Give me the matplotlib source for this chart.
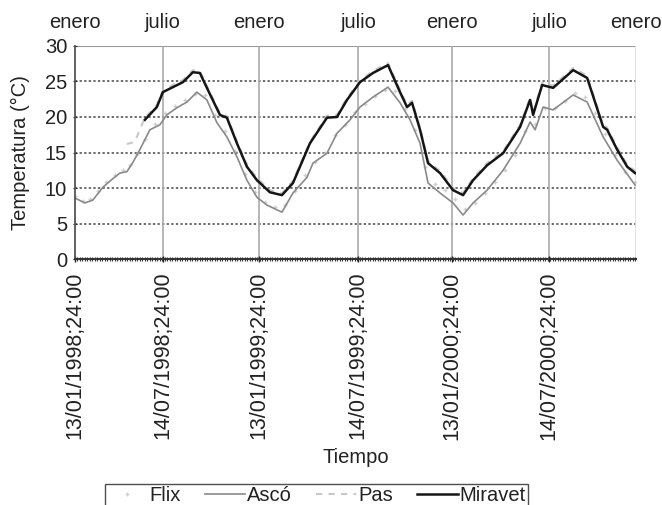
import matplotlib
matplotlib.use("Agg")
import matplotlib.pyplot as plt
from matplotlib.ticker import MultipleLocator

plt.rcParams['font.family'] = ['Liberation Sans', 'DejaVu Sans']
plt.rcParams['font.size'] = 14.5
plt.rcParams['text.color'] = '#222222'
plt.rcParams['axes.labelcolor'] = '#222222'
plt.rcParams['xtick.color'] = '#222222'
plt.rcParams['ytick.color'] = '#222222'

#
# -1- Datos : temperatura del agua por numero de registro
#

tick_reg = [0, 176, 368, 566, 754, 948]
tick_lab = ["13/01/1998;24:00", "14/07/1998;24:00", "13/01/1999;24:00",
            "14/07/1999;24:00", "13/01/2000;24:00", "14/07/2000;24:00"]
top_reg = [0, 176, 368, 566, 754, 948, 1122]
top_lab = ["enero", "julio", "enero", "julio", "enero", "julio", "enero"]

asco_reg = [0, 20, 36, 56, 74, 90, 104, 116, 130, 150, 170, 184, 204, 224, 244,
            264, 284, 304, 324, 344, 364, 384, 414, 436, 464, 476, 504, 524,
            550, 570, 596, 626, 650, 670, 690, 706, 730, 756, 776, 796, 824,
            856, 890, 910, 920, 936, 956, 996, 1024, 1056, 1084, 1120]
asco_t = [8.6, 7.9, 8.3, 10.1, 11.2, 12.1, 12.3, 13.6, 15.4, 18.2, 18.9, 20.3,
          21.3, 22.1, 23.5, 22.4, 19.2, 17.2, 14.4, 11.1, 8.7, 7.6, 6.6, 9.3,
          11.5, 13.5, 14.9, 17.7, 19.6, 21.4, 22.8, 24.2, 22.0, 19.6, 16.3,
          10.7, 9.3, 7.9, 6.2, 7.9, 9.7, 12.5, 16.3, 19.3, 18.2, 21.4, 21.0,
          23.1, 22.1, 17.2, 13.9, 10.4]

flix_reg = [0, 16, 30, 46, 62, 80, 96, 110, 124, 140, 160, 180, 200, 220, 240,
            260, 280, 300, 320, 340, 360, 380, 400, 420, 440, 460, 480, 500,
            520, 540, 560, 580, 600, 620, 640, 660, 680, 700, 720, 740, 760,
            780, 800, 820, 840, 860, 880, 900, 920, 940, 960, 980, 1000, 1020,
            1040, 1060, 1080, 1100, 1120]
flix_t = [8.9, 8.2, 8.5, 9.6, 10.8, 11.9, 12.6, 13.3, 14.8, 16.9, 19.0, 20.6,
          21.6, 22.4, 23.3, 23.1, 20.3, 18.0, 15.2, 12.0, 9.4, 8.0, 7.3, 7.6,
          9.6, 11.8, 13.6, 15.0, 17.4, 18.9, 20.7, 21.8, 22.9, 23.8, 23.6,
          21.1, 18.2, 12.9, 10.5, 9.7, 8.5, 7.0, 7.9, 9.3, 10.8, 12.6, 14.6,
          18.0, 19.0, 21.3, 21.3, 22.3, 23.4, 22.8, 20.5, 17.6, 14.6, 12.3,
          10.8]

pas_reg = [104, 120, 140, 164, 176, 196, 216, 236, 250, 264, 290, 304, 324,
           344, 364, 390, 414, 436, 470, 504, 524, 544, 570, 596, 626, 650,
           664, 674, 690, 706, 730, 756, 776, 796, 824, 856, 890, 910, 916,
           934, 956, 996, 1024, 1056, 1064, 1084, 1104, 1120]
pas_t = [16.2, 16.5, 19.9, 21.7, 23.7, 24.5, 25.2, 26.6, 26.4, 24.4, 20.6,
         20.1, 16.6, 13.3, 11.4, 9.7, 9.3, 11.0, 16.5, 20.2, 20.3, 22.7, 25.1,
         26.5, 27.6, 23.8, 21.7, 22.3, 18.5, 13.8, 12.4, 10.0, 9.3, 11.4, 13.5,
         15.2, 18.9, 22.7, 20.6, 24.8, 24.4, 26.9, 25.8, 18.9, 18.5, 15.7,
         13.3, 12.4]

miravet_reg = [140, 164, 176, 196, 216, 236, 250, 264, 290, 304, 324, 344,
               364, 390, 414, 436, 470, 504, 524, 544, 570, 596, 626, 650,
               664, 674, 690, 706, 730, 756, 776, 796, 824, 856, 890, 910,
               916, 934, 956, 996, 1024, 1056, 1064, 1084, 1104, 1120]
miravet_t = [19.6, 21.4, 23.5, 24.2, 24.9, 26.3, 26.2, 24.1, 20.3, 19.9, 16.3,
             13.0, 11.1, 9.4, 9.0, 10.7, 16.3, 19.9, 20.0, 22.4, 24.9, 26.2,
             27.3, 23.5, 21.4, 22.0, 18.2, 13.5, 12.1, 9.7, 9.0, 11.1, 13.2,
             14.9, 18.6, 22.4, 20.3, 24.5, 24.1, 26.6, 25.5, 18.6, 18.2, 15.4,
             13.0, 12.1]

#
# -2- Grafico
#

fig = plt.figure(figsize=(6.62, 5.05), dpi=100)
ax = fig.add_axes([0.113, 0.487, 0.848, 0.422])

ax.plot(flix_reg, flix_t, '+', color='#cfcfcf', ms=3.5, mew=1, label='Flix')
ax.plot(asco_reg, asco_t, '-', color='#8a8a8a', lw=1.2, label='Ascó')
ax.plot(pas_reg, pas_t, '--', color='#c8c8c8', lw=1.5, dashes=(3, 3),
        label='Pas')
ax.plot(miravet_reg, miravet_t, '-', color='#151515', lw=1.8,
        label='Miravet')

ax.set_xlim(0, 1122)
ax.set_ylim(0, 30)
ax.set_yticks(range(0, 31, 5))
ax.set_xticks(tick_reg)
ax.set_xticklabels(tick_lab, rotation=90, va='top', fontsize=15.5)
ax.xaxis.set_minor_locator(MultipleLocator(5))
ax.tick_params(axis='x', which='major', length=4, width=1, pad=7,
               direction='inout')
ax.tick_params(axis='x', which='minor', length=3, width=0.8,
               direction='inout', color='#333333')
ax.tick_params(axis='y', length=3, pad=4, direction='inout')

for y in range(5, 30, 5):
  ax.axhline(y, color='#444444', lw=1.1, ls=(0, (1.5, 1.5)), zorder=0)
ax.axhline(30, color='#999999', lw=1.5, zorder=0)
for x in tick_reg[1:]:
  ax.axvline(x, color='#aaaaaa', lw=1.2, zorder=0)

for side in ['top', 'right']:
  ax.spines[side].set_visible(False)
ax.spines['left'].set_color('#555555')
ax.spines['left'].set_linewidth(1.3)
ax.spines['bottom'].set_color('#333333')
ax.spines['bottom'].set_linewidth(1.5)
ax.axvline(1122, color='#dddddd', lw=1.2, zorder=0)

top = ax.secondary_xaxis('top')
top.set_xticks(top_reg)
top.set_xticklabels(top_lab)
top.tick_params(length=0, pad=10)
top.spines['top'].set_visible(False)

ax.set_ylabel("Temperatura (°C)", labelpad=11)
ax.set_xlabel("Tiempo", labelpad=6)

fig.legend(loc='upper center', bbox_to_anchor=(0.478, 0.042), ncol=4,
           frameon=True, fancybox=False, edgecolor='#222222',
           handlelength=2.0, handletextpad=0.1, columnspacing=1.2,
           borderpad=0.1, borderaxespad=0)

fig.savefig("out.png", dpi=100)
